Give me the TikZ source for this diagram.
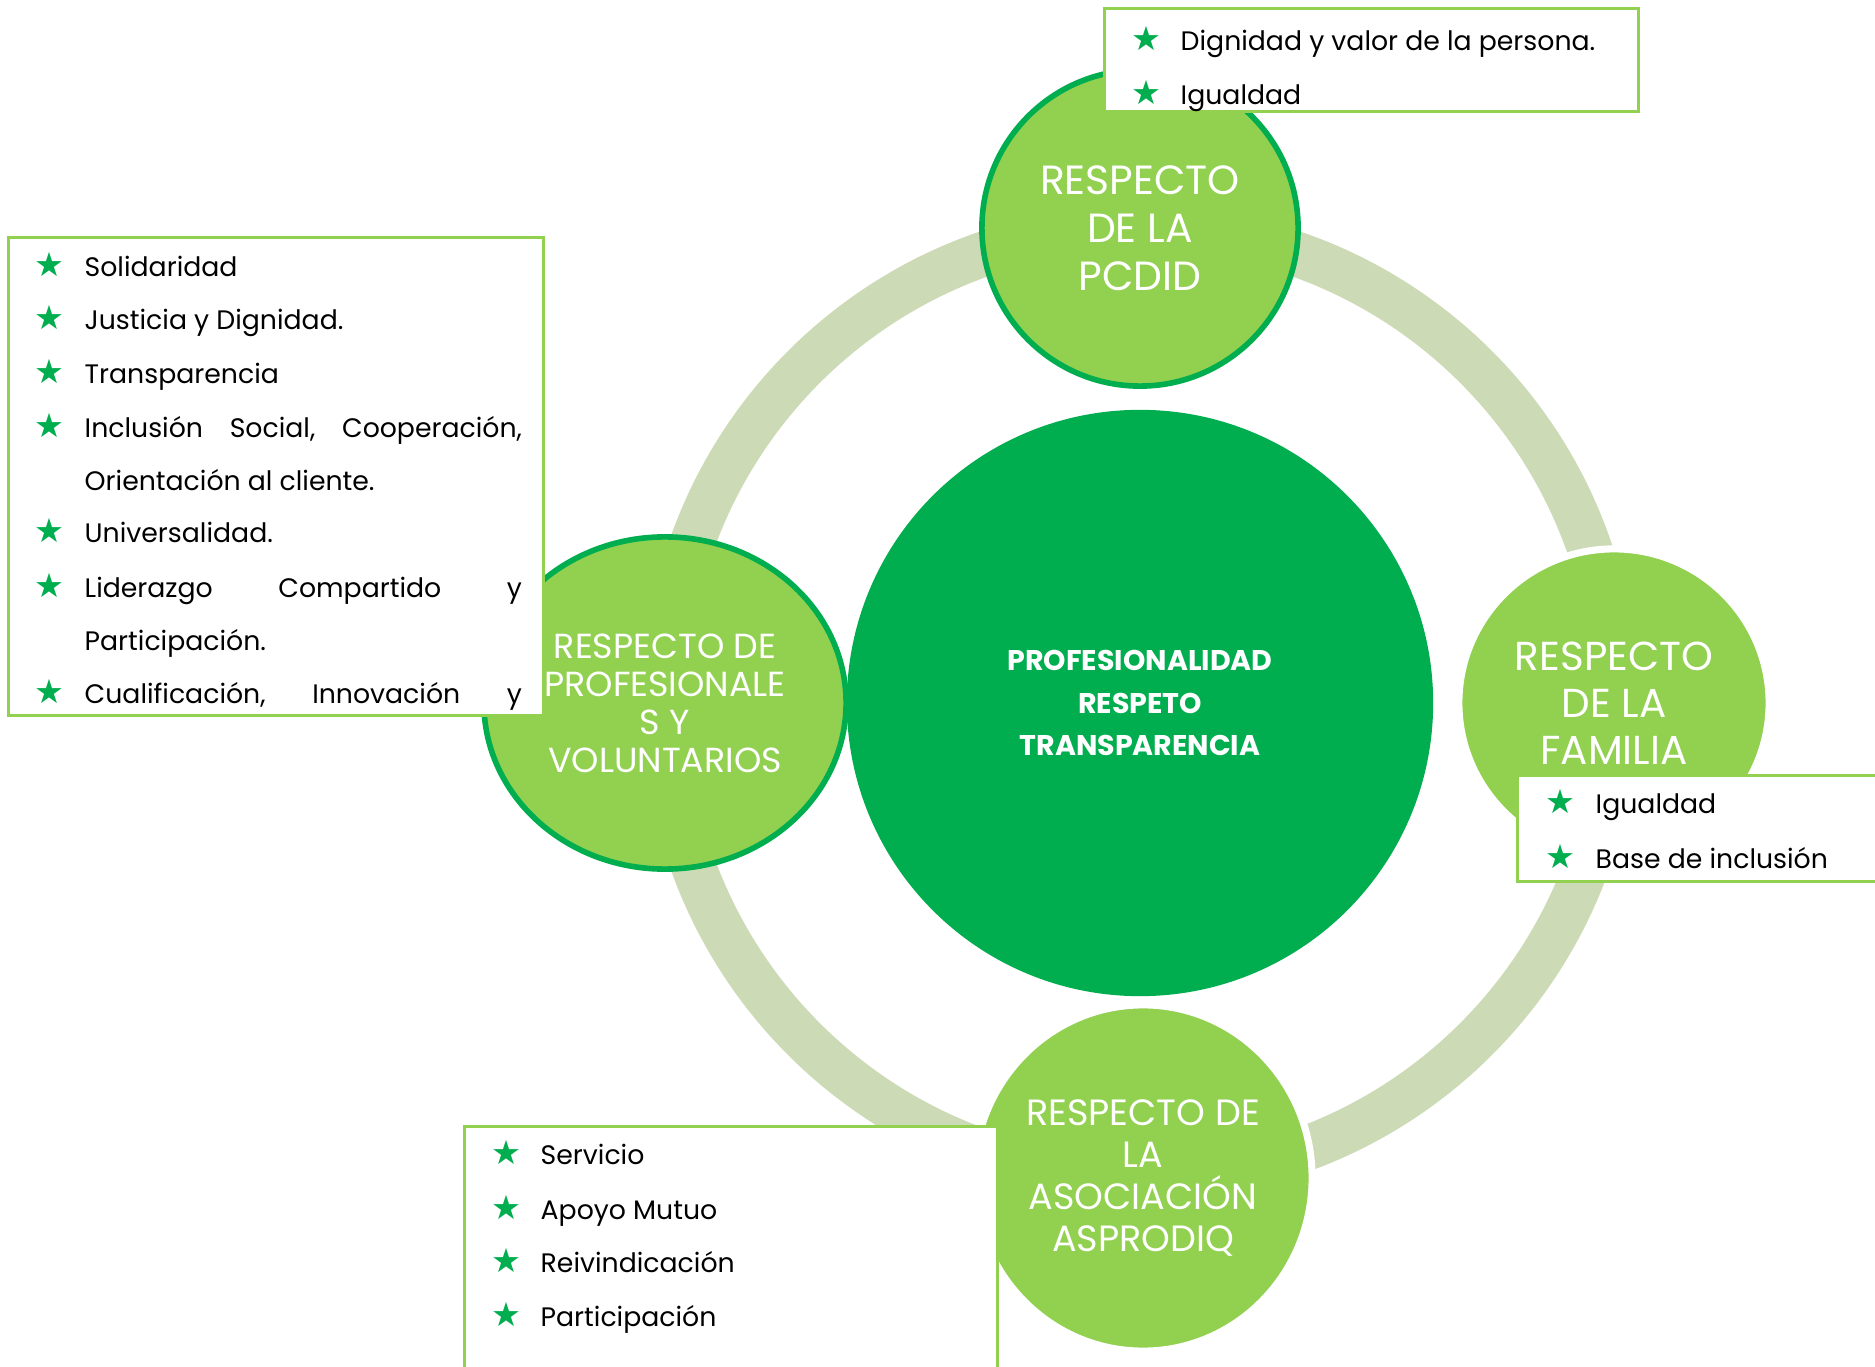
\documentclass[tikz,border=0pt]{standalone}
\usepackage{fontspec}
\setmainfont{Poppins}
\newfontfamily\starfont{DejaVu Sans}
\usetikzlibrary{shapes.geometric}

\definecolor{darkgreen}{HTML}{00AE4F}
\definecolor{lightgreen}{HTML}{92D050}
\definecolor{ringgreen}{HTML}{CDDAB6}

\begin{document}
\begin{tikzpicture}
  [
    x=0.01cm, y=-0.01cm,
    hub/.style={circle, fill=darkgreen, minimum size=5.86cm, inner sep=0pt, text=white, align=center,
      font=\bfseries\fontsize{8.1}{12.2}\selectfont},
    sat/.style={ellipse, fill=lightgreen, inner sep=0pt, text=white, align=center,
      font=\fontsize{11.6}{13.6}\selectfont},
    box/.style={draw=lightgreen, line width=0.8pt, fill=white, anchor=north west, inner sep=0pt},
    item/.style={anchor=base west, inner sep=0pt, font=\fontsize{7.6}{10}\selectfont},
    bullet/.style={anchor=base, inner sep=0pt, text=darkgreen, font=\starfont\fontsize{9.5}{10}\selectfont}
  ]
  \useasboundingbox (0,0) rectangle (1875,1367);
  % ring
  \draw[ringgreen, line width=0.45cm] (1140,703) circle (4.75cm);
  % circles
  \node[sat, draw=darkgreen, line width=1.6pt, minimum width=3.16cm, minimum height=3.16cm]
    (pcdid) at (1140,228) {RESPECTO\\DE LA\\PCDID};
  \node[sat, draw=darkgreen, line width=1.6pt, minimum width=3.62cm, minimum height=3.32cm,
    font=\fontsize{9.9}{10.8}\selectfont]
    (prof) at (665,703) {RESPECTO DE\\PROFESIONALE\\S Y\\VOLUNTARIOS};
  \node[sat, draw=white, line width=2pt, minimum width=3.1cm, minimum height=3.08cm,
    font=\fontsize{11.5}{13.4}\selectfont]
    (fam) at (1614,703) {RESPECTO\\DE LA\\FAMILIA};
  \node[sat, draw=white, line width=2pt, minimum width=3.38cm, minimum height=3.46cm,
    font=\fontsize{10.4}{11.9}\selectfont]
    (asoc) at (1143,1178) {RESPECTO DE\\LA\\ASOCIACIÓN\\ASPRODIQ};
  \node[hub] (core) at (1140,703) {PROFESIONALIDAD\\RESPETO\\TRANSPARENCIA};
  % boxes
  \node[box, minimum width=5.34cm, minimum height=1.03cm] (tbox) at (1103,7) {};
  \node[box, minimum width=5.35cm, minimum height=4.78cm] (lbox) at (7,236) {};
  \node[box, minimum width=4cm, minimum height=1.06cm] (rbox) at (1516,774) {};
  \node[box, minimum width=5.33cm, minimum height=3cm] (bbox) at (463,1125) {};
  % top list
  \begin{scope}
    \clip (tbox.south west) rectangle (tbox.north east);
    \foreach \y/\txt [count=\i] in {51/{Dignidad y valor de la persona.}, 105/Igualdad} {
      \node[bullet] (ts\i) at (1146,\y) {★};
      \node[item] (t\i) at (1180,\y) {\txt};
    }
  \end{scope}
  % left list
  \foreach \y in {277,330,384,438,543,597,703} {
    \node[bullet] (ls\y) at (49,\y) {★};
  }
  \foreach \y/\txt [count=\i] in {277/Solidaridad, 330/{Justicia y Dignidad.}, 384/Transparencia,
      438/{\hbox to 4.37cm{Inclusión\hfill Social,\hfill Cooperación,}}, 491/{Orientación al cliente.},
      543/Universalidad., 597/{\hbox to 4.37cm{Liderazgo\hfill Compartido\hfill y}}, 651/Participación.,
      703/{\hbox to 4.37cm{Cualificación,\hfill Innovación\hfill y}}} {
    \node[item] (l\i) at (84,\y) {\txt};
  }
  % right list
  \foreach \y/\txt [count=\i] in {814/Igualdad, 868/{Base de inclusión}} {
    \node[bullet] (rs\i) at (1560,\y) {★};
    \node[item] (r\i) at (1595,\y) {\txt};
  }
  % bottom list
  \foreach \y/\txt [count=\i] in {1164/Servicio, 1219/{Apoyo Mutuo}, 1272/Reivindicación, 1326/Participación} {
    \node[bullet] (bs\i) at (506,\y) {★};
    \node[item] (b\i) at (540,\y) {\txt};
  }
\end{tikzpicture}
\end{document}
